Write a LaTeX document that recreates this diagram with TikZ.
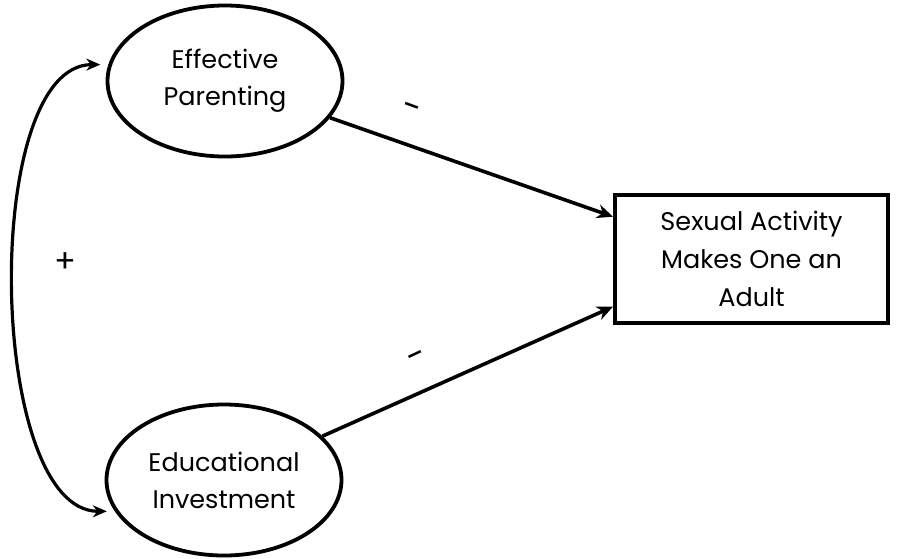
\documentclass[tikz,border=0pt]{standalone}
\usepackage{fontspec}
\setmainfont{Poppins}
\usetikzlibrary{shapes.geometric,arrows.meta}
\begin{document}
\begin{tikzpicture}[x=1pt,y=-1pt,
  latent/.style={ellipse,draw,line width=3.8pt,minimum width=235pt,minimum height=151pt,
    inner sep=0pt,align=center,font=\fontsize{25.5}{37}\selectfont},
  outcome/.style={rectangle,draw,line width=4pt,minimum width=273pt,minimum height=128pt,
    inner sep=0pt,align=center,font=\fontsize{25.5}{38}\selectfont},
  effect/.style={line width=3.6pt,-{Stealth[length=16pt,width=14pt]}},
  covary/.style={line width=3.2pt,{Stealth[length=14pt,width=12pt]}-{Stealth[length=14pt,width=12pt]},
    shorten <=8pt,shorten >=8pt},
  sign/.style={inner sep=0pt,font=\fontsize{34}{34}\selectfont}]
\useasboundingbox (0,0) rectangle (900,558);

% constructs
\node[latent] (ep) at (225,81) {Effective\\Parenting};
\node[latent] (ei) at (224,480) {Educational\\Investment};
\node[outcome] (sa) at (751.5,259) {Sexual Activity\\Makes One an\\Adult};

% direct effects
\draw[effect] (ep) -- (sa.163);
\draw[effect] (ei) -- (sa.199);

% covariance between the two predictors
\draw[covary] (ep.172) .. controls +(-128,0) and +(-128,0) .. (ei.196);

% signs of the paths
\node[sign,rotate=-20] (s1) at (411,111) {-};
\node[sign,rotate=25] (s2) at (418,359) {-};
\node[sign,font=\fontsize{32}{32}\selectfont] (s3) at (65,263) {+};
\end{tikzpicture}
\end{document}
